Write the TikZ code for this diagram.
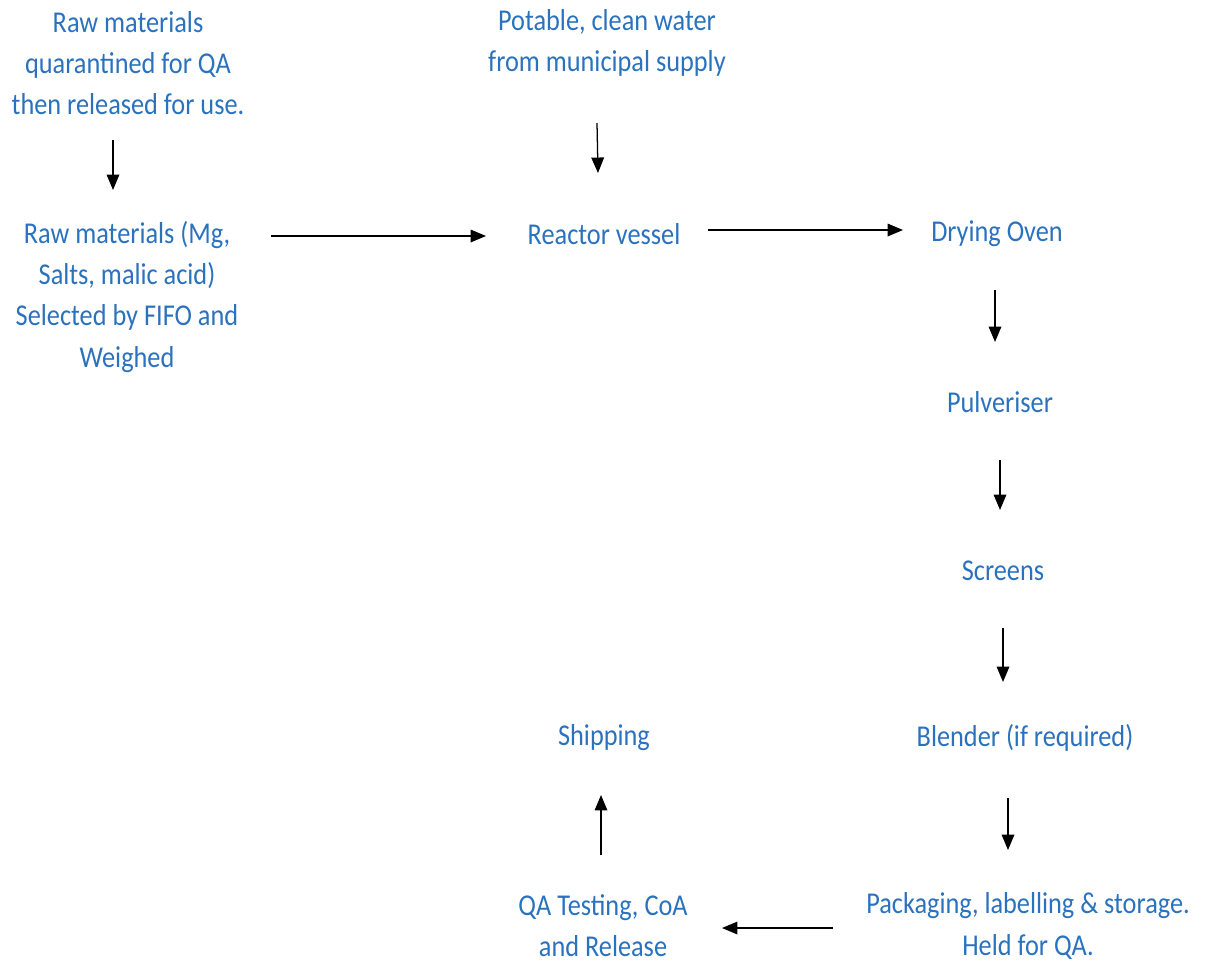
\documentclass[tikz,border=0pt]{standalone}
\usepackage{fontspec}
\setmainfont{Carlito}[FakeStretch=0.87]
\usetikzlibrary{arrows.meta,calc}
\definecolor{stepblue}{HTML}{2B72BE}

\begin{document}
\begin{tikzpicture}[x=0.025cm,y=-0.025cm,
    stage/.style={align=center,inner sep=0pt,text=stepblue,
      font=\fontsize{21.5}{29.2}\selectfont},
    flow/.style={-{Triangle[length=11pt,width=9pt]},line width=0.9pt,black}]
    \useasboundingbox (0,0) rectangle (1207,963);

    % Process stages
    \node[stage] (quar)   at (128,63)  {Raw materials\\quarantined for QA\\then released for use.};
    \node[stage] (raw)    at (127,297) {Raw materials (Mg,\\Salts, malic acid)\\Selected by FIFO and\\Weighed};
    \node[stage] (water)  at (607,43)  {Potable, clean water\\from municipal supply};
    \node[stage] (react)  at (604,234) {Reactor vessel};
    \node[stage] (dry)    at (997,234) {Drying Oven};
    \node[stage] (pulv)   at (1000,402) {Pulveriser};
    \node[stage] (screen) at (1003,571) {Screens};
    \node[stage] (blend)  at (1025,738) {Blender (if required)};
    \node[stage] (pack)   at (1028,926) {Packaging, labelling \& storage.\\Held for QA.};
    \node[stage] (qatest) at (603,926) {QA Testing, CoA\\and Release};
    \node[stage] (ship)   at (604,738) {Shipping};

    % Flow arrows
    \draw[flow] ($(quar.center)+(-15,77)$) -- ($(raw.center)+(-14,-107)$);
    \draw[flow] ($(raw.center)+(144,-61)$) -- ($(react.center)+(-118,2)$);
    \draw[flow] ($(water.center)+(-10,80)$) -- ($(react.center)+(-6,-61)$);
    \draw[flow] ($(react.center)+(104,-4)$) -- ($(dry.center)+(-94,-4)$);
    \draw[flow] ($(dry.center)+(-2,56)$) -- ($(pulv.center)+(-5,-60)$);
    \draw[flow] ($(pulv.center)+(0,58)$) -- ($(screen.center)+(-3,-61)$);
    \draw[flow] ($(screen.center)+(0,57)$) -- ($(blend.center)+(-22,-56)$);
    \draw[flow] ($(blend.center)+(-17,60)$) -- ($(pack.center)+(-20,-76)$);
    \draw[flow] ($(pack.center)+(-195,2)$) -- ($(qatest.center)+(119,2)$);
    \draw[flow] ($(qatest.center)+(-2,-71)$) -- ($(ship.center)+(-3,57)$);
\end{tikzpicture}
\end{document}
